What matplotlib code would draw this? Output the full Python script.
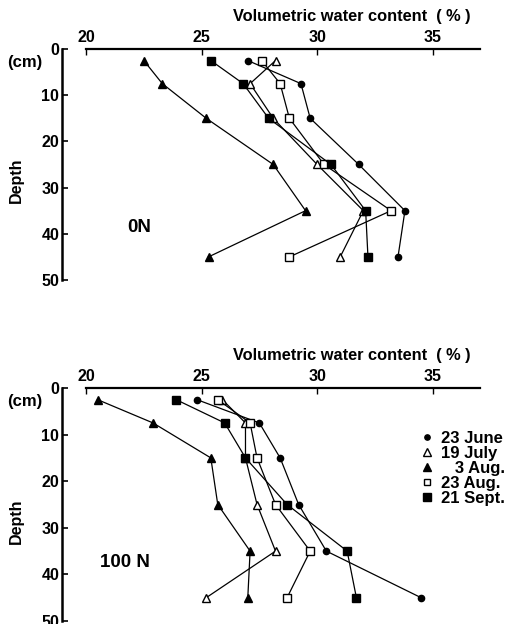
import matplotlib.pyplot as plt
from matplotlib.lines import Line2D

plt.rcParams['font.family'] = ['Liberation Sans', 'DejaVu Sans']
plt.rcParams['font.weight'] = 'bold'

# sampling depths (cm)
depth = [2.5, 7.5, 15, 25, 35, 45]

dates = ['23 June', '19 July', '3 Aug.', '23 Aug.', '21 Sept.']
legend_labels = ['23 June', '19 July', '   3 Aug.', '23 Aug.', '21 Sept.']

# volumetric water content (%), 0 N plot
n0_june = [27.0, 29.3, 29.7, 31.8, 33.8, 33.5]
n0_july = [28.2, 27.1, 28.1, 30.0, 32.0, 31.0]
n0_aug3 = [22.5, 23.3, 25.2, 28.1, 29.5, 25.3]
n0_aug23 = [27.6, 28.4, 28.8, 30.3, 33.2, 28.8]
n0_sept = [25.4, 26.8, 27.9, 30.6, 32.1, 32.2]

# volumetric water content (%), 100 N plot
n100_june = [24.8, 27.5, 28.4, 29.2, 30.4, 34.5]
n100_july = [25.9, 26.9, 26.9, 27.4, 28.2, 25.2]
n100_aug3 = [20.5, 22.9, 25.4, 25.7, 27.1, 27.0]
n100_aug23 = [25.7, 27.1, 27.4, 28.2, 29.7, 28.7]
n100_sept = [23.9, 26.0, 26.9, 28.7, 31.3, 31.7]

styles = [dict(marker='o', mfc='black', ms=4.5),
          dict(marker='^', mfc='white', ms=6),
          dict(marker='^', mfc='black', ms=6),
          dict(marker='s', mfc='white', ms=5.5),
          dict(marker='s', mfc='black', ms=6)]

fig = plt.figure(figsize=(5.07, 6.24), dpi=100)
ax1 = fig.add_axes([0.1223, 0.5513, 0.8245, 0.3702])
ax2 = fig.add_axes([0.1223, 0.0048, 0.8245, 0.3734])

xmin, xmax = 18.96, 37.05

panels = [(ax1, [n0_june, n0_july, n0_aug3, n0_aug23, n0_sept], '0N', 21.8, 38.7),
          (ax2, [n100_june, n100_july, n100_aug3, n100_aug23, n100_sept], '100 N', 20.6, 37.5)]

for ax, series, name, tx, ty in panels:
    for vals, st in zip(series, styles):
        ax.plot(vals, depth, color='black', lw=0.9, mec='black', mew=1.0, **st)
    ax.set_xlim(xmin, xmax)
    ax.set_ylim(50, 0)
    ax.xaxis.tick_top()
    ax.set_xticks([20, 25, 30, 35])
    ax.set_yticks([0, 10, 20, 30, 40, 50])
    ax.tick_params(axis='x', direction='in', length=4, width=1, pad=3, labelsize=11.5)
    ax.tick_params(axis='y', direction='in', length=4, width=1.2, pad=2, labelsize=11.5)
    ax.spines['bottom'].set_visible(False)
    ax.spines['right'].set_visible(False)
    ax.spines['top'].set_linewidth(1.6)
    ax.spines['left'].set_linewidth(1.8)
    ax.spines['top'].set_bounds(20, xmax)
    ax.set_xlabel('Volumetric water content  ( % )', fontsize=11.8, fontweight='bold')
    ax.xaxis.set_label_position('top')
    ax.xaxis.set_label_coords(0.694, 1.122)
    ax.set_ylabel('Depth', fontsize=11.5, fontweight='bold')
    ax.yaxis.set_label_coords(-0.091, 0.43)
    ax.text(-0.089, 0.943, '(cm)', transform=ax.transAxes, ha='center', va='center',
            fontsize=12, fontweight='bold')
    ax.text(tx, ty, name, ha='left', va='center', fontsize=13.5, fontweight='bold')

handles = [Line2D([], [], ls='none', color='black', mec='black', mew=1.0,
                  **dict(st, ms=st['ms'] * 0.85)) for st in styles]
ax2.legend(handles, legend_labels, loc='upper left', bbox_to_anchor=(0.837, 0.85),
           frameon=False, handlelength=0.8, handletextpad=0.45, labelspacing=0.0,
           borderpad=0, prop={'size': 12, 'weight': 'bold'})

fig.savefig('out.png', dpi=100)
